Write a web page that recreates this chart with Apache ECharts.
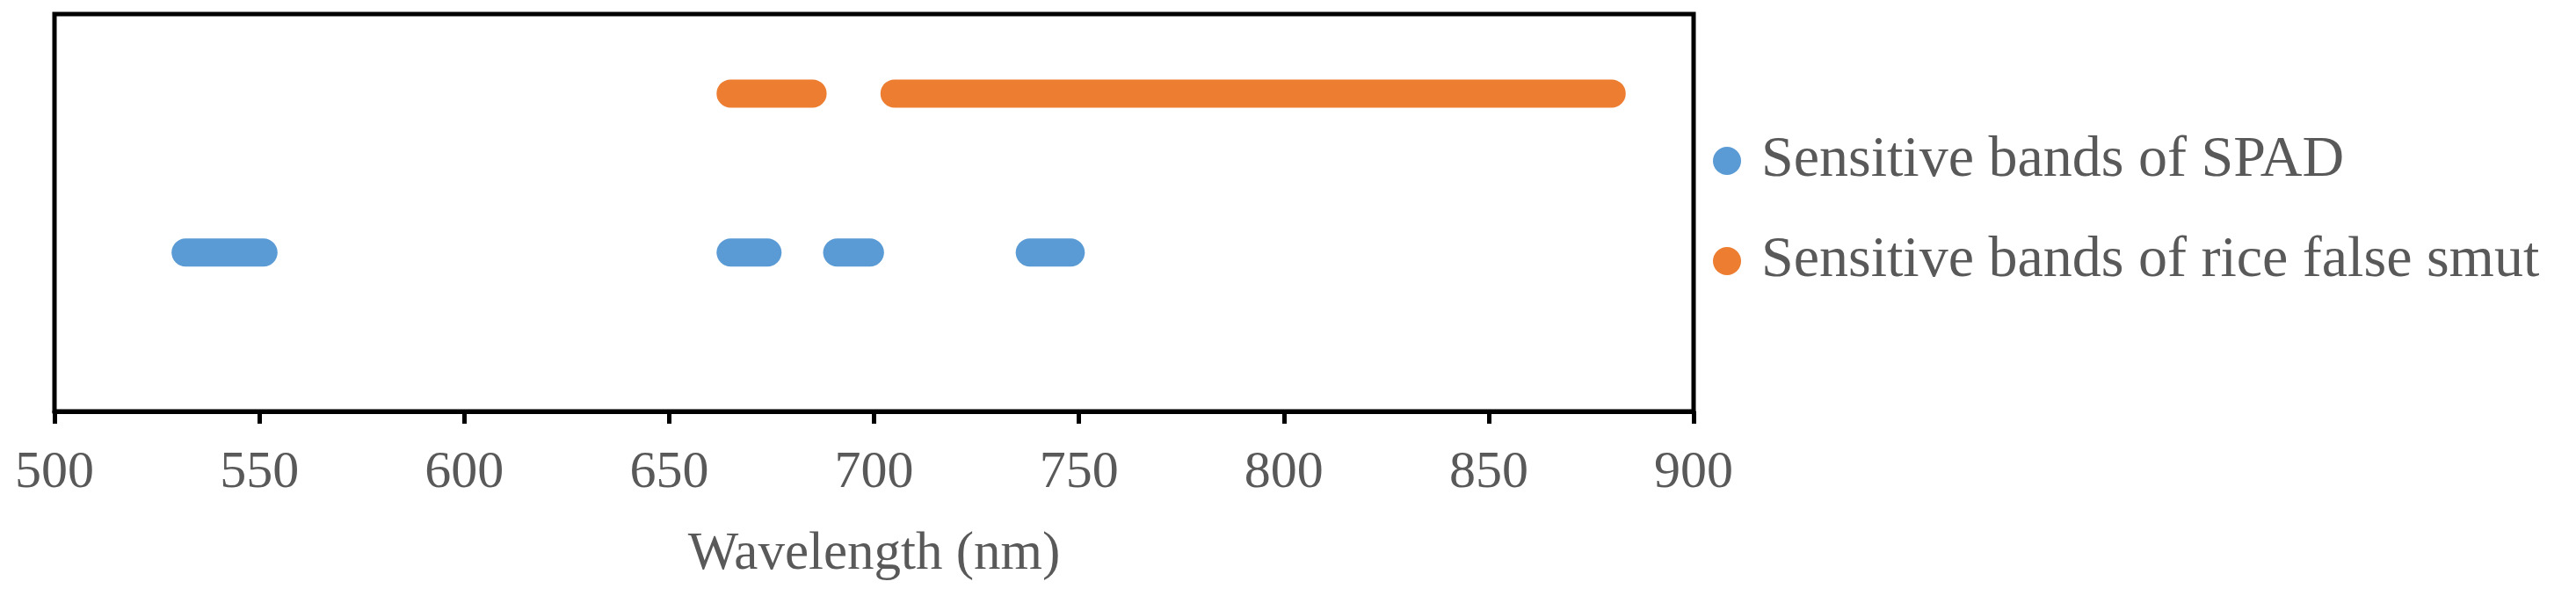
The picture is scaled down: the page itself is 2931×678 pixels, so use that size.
<!DOCTYPE html>
<html>
<head>
<meta charset="utf-8">
<style>
  html, body { margin: 0; padding: 0; background: #ffffff; }
  #chart { width: 2931px; height: 678px; }
</style>
<script src="https://cdn.jsdelivr.net/npm/echarts@6/dist/echarts.min.js"></script>
</head>
<body>
<div id="chart"></div>
<script>
// ---- data (wavelength ranges in nm) ----
const seriesNames = ['Sensitive bands of SPAD', 'Sensitive bands of rice false smut'];
const spadBands = [[532, 551], [665, 674], [691, 699], [738, 748]];
const smutBands = [[665, 685], [705, 880]];
const spadLevel = 2;
const smutLevel = 4;
const xMin = 500, xMax = 900, xInterval = 50;
const colors = ['#5B9BD5', '#ED7D31'];

const FONT = "'Liberation Serif', 'Times New Roman', serif";
const TEXT = '#595959';

function bandSeries(name, bands, level, color) {
  return bands.map(function (b) {
    return {
      name: name,
      type: 'line',
      data: [[b[0], level], [b[1], level]],
      showSymbol: false,
      symbol: 'none',
      color: color,
      lineStyle: { width: 32, cap: 'round', color: color },
      itemStyle: { color: color },
      silent: true
    };
  });
}

const series = []
  .concat(bandSeries(seriesNames[0], spadBands, spadLevel, colors[0]))
  .concat(bandSeries(seriesNames[1], smutBands, smutLevel, colors[1]));

const chart = echarts.init(document.getElementById('chart'), null, { renderer: 'canvas' });
chart.setOption({
  animation: false,
  backgroundColor: '#ffffff',
  grid: {
    left: 62, right: 1004, top: 16, bottom: 210,
    show: true, borderColor: '#000000', borderWidth: 5, backgroundColor: 'transparent'
  },
  legend: {
    orient: 'vertical',
    left: 1944,
    top: 145,
    icon: 'circle',
    itemWidth: 68,
    itemHeight: 32,
    itemGap: 48,
    data: seriesNames,
    textStyle: { fontFamily: FONT, fontSize: 66, color: TEXT, lineHeight: 66 }
  },
  xAxis: {
    type: 'value',
    min: xMin, max: xMax, interval: xInterval,
    name: 'Wavelength (nm)',
    nameLocation: 'middle',
    nameGap: 132,
    nameTextStyle: { fontFamily: FONT, fontSize: 61, color: TEXT },
    axisLine: { show: true, lineStyle: { color: '#000000', width: 5 } },
    axisTick: { show: true, inside: false, length: 14, lineStyle: { color: '#000000', width: 5 } },
    axisLabel: { fontFamily: FONT, fontSize: 60, color: TEXT, margin: 40 },
    splitLine: { show: false }
  },
  yAxis: {
    type: 'value',
    min: 0, max: 5,
    show: false,
    splitLine: { show: false }
  },
  series: series
});
</script>
</body>
</html>
